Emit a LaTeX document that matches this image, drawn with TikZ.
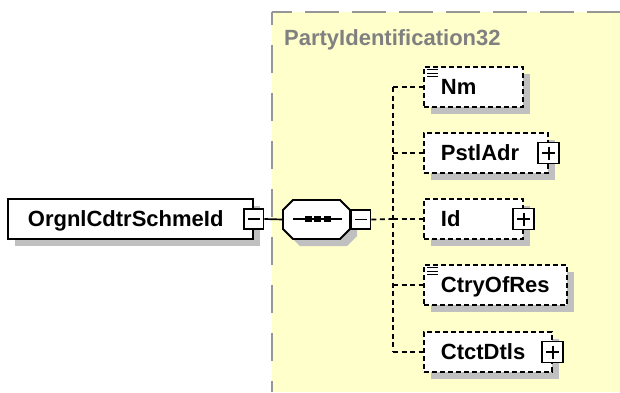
\documentclass[tikz,border=0pt]{standalone}
\usepackage{fontspec}
\setmainfont{Liberation Sans}
\usetikzlibrary{shadows,calc}
\definecolor{yel}{RGB}{255,255,204}
\definecolor{bordergray}{RGB}{150,150,150}
\definecolor{shgray}{RGB}{192,192,192}
\definecolor{titlegray}{RGB}{128,128,128}
\begin{document}
\begin{tikzpicture}[x=1pt,y=-1pt,
  every node/.style={font=\fontsize{22}{26}\selectfont\bfseries},
  shadowed/.style={drop shadow={shadow xshift=7pt,shadow yshift=-7pt,fill=shgray,opacity=1}},
  boxbase/.style={line width=1.8pt,fill=white,shadowed,minimum height=40pt,anchor=west,
    inner ysep=0pt,text height=15.5pt,text depth=0pt,align=left},
  mainbox/.style={boxbase,draw=black,inner xsep=20pt},
  elem/.style={boxbase,draw=black,dash pattern=on 5pt off 3pt,inner xsep=17pt},
  conn/.style={line width=1.7pt,black},
  dconn/.style={conn,dash pattern=on 5pt off 3.5pt},
  tgbox/.style={draw=black,fill=white,line width=1.7pt,minimum width=#1,minimum height=#1,inner sep=0pt},
  tgminus/.style={tgbox=#1,path picture={\draw[line width=1.6pt]
      ([xshift=4pt]path picture bounding box.west) -- ([xshift=-4pt]path picture bounding box.east);}},
  tgplus/.style={tgbox=#1,path picture={\draw[line width=1.6pt]
      ([xshift=4pt]path picture bounding box.west) -- ([xshift=-4pt]path picture bounding box.east)
      ([yshift=-4pt]path picture bounding box.north) -- ([yshift=4pt]path picture bounding box.south);}}
]
\useasboundingbox (0,0) rectangle (620,392);
% yellow complex-type region
\fill[yel] (272,12) rectangle (620,392);
\draw[bordergray,line width=2.2pt,dash pattern=on 34pt off 13pt,dash phase=14pt] (272,12) -- (620,12);
\draw[bordergray,line width=2.2pt,dash pattern=on 28pt off 20pt,dash phase=15pt] (272,12) -- (272,392);
\node[anchor=base west,text=titlegray,inner sep=0pt] (title) at (284,45) {PartyIdentification32};

% main element
\node[mainbox,minimum width=245pt,text width=205pt] (main) at (7,219) {OrgnlCdtrSchmeId};
\node[tgminus=19.5pt] (m1) at (main.east) {};

% sequence compositor
\node[inner sep=0pt,minimum width=67pt,minimum height=39pt] (seq) at (316.5,219.5) {};
\begin{scope}[shift={(7,7)}]
  \fill[shgray] (293,200)--(340,200)--(350,210)--(350,229)--(340,239)--(293,239)--(283,229)--(283,210)--cycle;
\end{scope}
\draw[fill=white,line width=1.8pt] (293,200)--(340,200)--(350,210)--(350,229)--(340,239)--(293,239)--(283,229)--(283,210)--cycle;
\draw[line width=1.6pt] (293,219)--(342,219);
\foreach \cx in {308.5,317.5,327.5} \fill (\cx,219) +(-3.3,-3.3) rectangle +(3.3,3.3);
\node[tgminus=19.5pt,anchor=west] (m2) at (seq.east) {};

% child elements
\node[elem,minimum width=99pt,text width=65pt] (nm) at (423,87) {Nm};
\node[elem,minimum width=124pt,text width=90pt] (pstl) at (423,153) {PstlAdr};
\node[elem,minimum width=99pt,text width=65pt] (id) at (423,219) {Id};
\node[elem,minimum width=143pt,text width=109pt] (ctry) at (423,285) {CtryOfRes};
\node[elem,minimum width=128pt,text width=94pt] (ctct) at (423,352) {CtctDtls};

% simple-content icons
\foreach \k in {3.5,7,10.5} {
  \draw[line width=1.2pt] ($(nm.north west)+(4,\k)$) -- ++(11,0);
  \draw[line width=1.2pt] ($(ctry.north west)+(4,\k)$) -- ++(11,0);
}

% expand toggles
\node[tgplus=21pt] (ppstl) at (pstl.east) {};
\node[tgplus=21pt] (pid) at (id.east) {};
\node[tgplus=21pt] (pctct) at (ctct.east) {};

% connectors
\draw[conn] (m1.east) -- (seq.west);
\coordinate (bus) at (393,219);
\draw[dconn] (m2.east) -- (bus);
\draw[dconn] (nm.west -| bus) -- (ctct.west -| bus);
\foreach \n in {nm,pstl,id,ctry,ctct} \draw[dconn] (\n.west -| bus) -- (\n.west);
\end{tikzpicture}
\end{document}
